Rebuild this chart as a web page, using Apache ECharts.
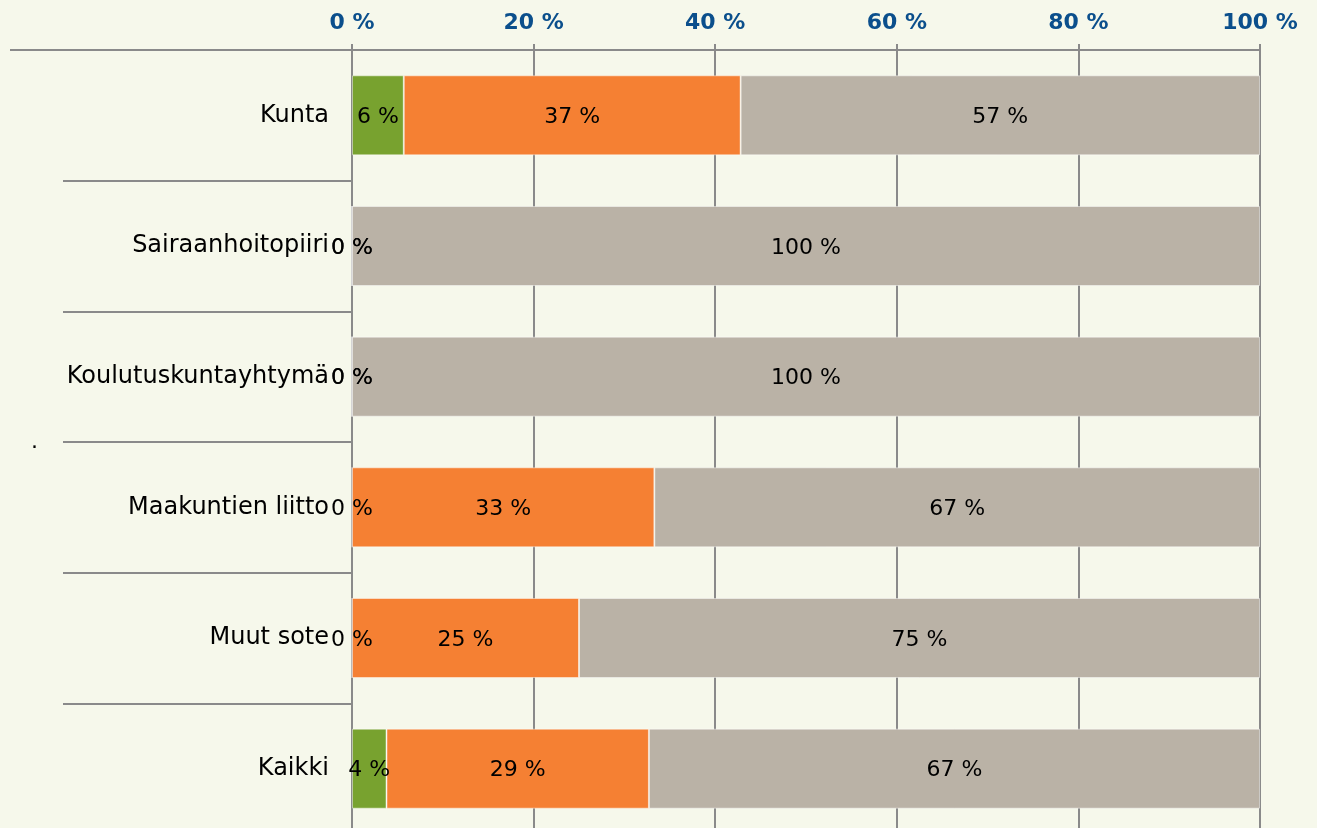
<!DOCTYPE html>
<html>
<head>
<meta charset="utf-8">
<script src="https://cdn.jsdelivr.net/npm/echarts@6/dist/echarts.min.js"></script>
<style>
  html, body { margin: 0; padding: 0; background: #f6f8eb; overflow: hidden; }
  #chart { width: 1317px; height: 840px; }
</style>
</head>
<body>
<div id="chart"></div>
<script>
// categories, top to bottom
const categories = ['Kunta', 'Sairaanhoitopiiri', 'Koulutuskuntayhtymä', 'Maakuntien liitto', 'Muut sote', 'Kaikki'];
// shares in percent
const greenValues  = [5.7, 0, 0, 0, 0, 3.8];
const orangeValues = [37.1, 0, 0, 33.3, 25, 28.9];
const greyValues   = [57.2, 100, 100, 66.7, 75, 67.3];
const xTicks = [0, 20, 40, 60, 80, 100];

const FONT = 'DejaVu Sans';

function seg(name, data, color) {
  return {
    name: name,
    type: 'bar',
    stack: 'all',
    data: data,
    barWidth: 80,
    itemStyle: { color: color, borderColor: 'rgba(255,255,255,0.45)', borderWidth: 1 },
    label: {
      show: true,
      position: 'inside',
      offset: [0, 2],
      color: '#000',
      fontFamily: FONT,
      fontSize: 22,
      formatter: p => Math.round(p.value) + ' %'
    }
  };
}

const chart = echarts.init(document.getElementById('chart'));
chart.setOption({
  backgroundColor: '#f6f8eb',
  animation: false,
  grid: { left: 352, top: 50, width: 908, height: 784 },
  xAxis: {
    type: 'value',
    position: 'top',
    min: 0,
    max: 100,
    interval: 20,
    axisLine: { show: true, lineStyle: { color: '#8a8a8a', width: 2 } },
    axisTick: { show: true, length: 6, lineStyle: { color: '#8a8a8a', width: 2 } },
    splitLine: { show: true, lineStyle: { color: '#8a8a8a', width: 2 } },
    axisLabel: {
      margin: 16,
      color: '#0b4f8c',
      fontFamily: FONT,
      fontWeight: 'bold',
      fontSize: 22,
      formatter: v => xTicks.includes(v) ? v + ' %' : ''
    }
  },
  yAxis: {
    type: 'category',
    inverse: true,
    data: categories,
    name: '.',
    nameLocation: 'middle',
    nameRotate: 0,
    nameGap: 314,
    nameTextStyle: { color: '#000', fontFamily: FONT, fontSize: 22 },
    axisLine: { show: true, lineStyle: { color: '#8a8a8a', width: 2 } },
    axisTick: { show: true, length: 289, lineStyle: { color: '#8a8a8a', width: 2 } },
    axisLabel: { margin: 23, color: '#000', fontFamily: FONT, fontSize: 24 }
  },
  graphic: [{
    type: 'line',
    shape: { x1: 10, y1: 50, x2: 352, y2: 50 },
    style: { stroke: '#8a8a8a', lineWidth: 2 }
  }],
  series: [
    seg('green', greenValues, '#78a22f'),
    seg('orange', orangeValues, '#f58033'),
    seg('grey', greyValues, '#bab2a6')
  ]
});
</script>
</body>
</html>
